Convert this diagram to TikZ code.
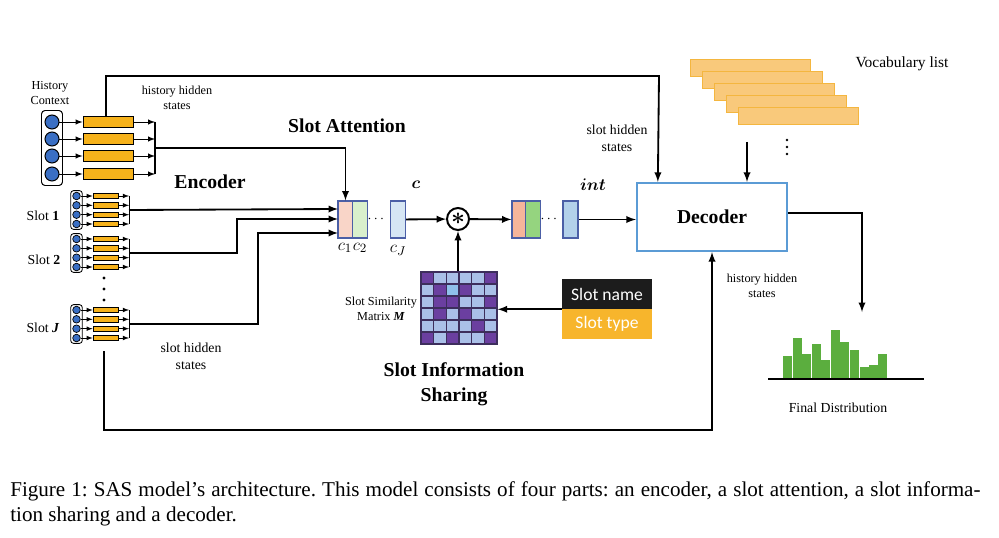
\documentclass[tikz,border=0pt]{standalone}
\usepackage{fontspec}
\usepackage{amsmath,bm}
\setmainfont{Liberation Serif}
\newfontfamily\calibri{Carlito}
\usetikzlibrary{fit,calc}

\definecolor{encblue}{HTML}{3A6FC4}
\definecolor{barorange}{HTML}{F6B21B}
\definecolor{cardfill}{HTML}{F9C97B}
\definecolor{carddraw}{HTML}{F4B63F}
\definecolor{histgreen}{HTML}{5BAE3E}
\definecolor{decblue}{HTML}{5B9BD5}
\definecolor{cborder}{HTML}{4B5FA6}
\definecolor{cpink}{HTML}{F9D5C8}
\definecolor{cgreen}{HTML}{D9F0CC}
\definecolor{cblue}{HTML}{D6E6F4}
\definecolor{isalmon}{HTML}{F6B59A}
\definecolor{igreen}{HTML}{95D47F}
\definecolor{iblue}{HTML}{B3D1EA}
\definecolor{matD}{HTML}{6B3FA0}
\definecolor{matL}{HTML}{AAC0E8}
\definecolor{matC}{HTML}{8FC0EA}
\definecolor{matgrid}{HTML}{3D2E5C}
\definecolor{namebg}{HTML}{1C1C1C}
\definecolor{typebg}{HTML}{F7B52C}

\tikzset{
    hcirc/.style={circle, draw=black, fill=encblue, line width=0.7pt, minimum size=0.35cm, inner sep=0},
    hbarbox/.style={draw=black, fill=barorange, line width=0.7pt, minimum width=1.25cm, minimum height=0.275cm, inner sep=0},
    scirc/.style={circle, draw=black, fill=encblue, line width=0.5pt, minimum size=0.19cm, inner sep=0},
    sbarbox/.style={draw=black, fill=barorange, line width=0.5pt, minimum width=0.625cm, minimum height=0.13cm, inner sep=0},
    colbox/.style={draw=black, rounded corners=2.5pt, line width=0.7pt},
    sarr/.style={->, line width=0.7pt},
    conn/.style={->, line width=1.3pt},
    vec/.style={draw=cborder, line width=0.8pt, minimum width=0.375cm, minimum height=0.925cm, inner sep=0},
    vcard/.style={draw=carddraw, fill=cardfill, line width=0.6pt, minimum width=3cm, minimum height=0.425cm, inner sep=0},
    lbl/.style={font=\fontsize{8.7}{10.5}\selectfont, align=center},
    biglbl/.style={font=\fontsize{9.8}{12}\selectfont, align=center},
    part/.style={font=\fontsize{14}{17.5}\selectfont\bfseries, align=center},
    mlbl/.style={font=\fontsize{12.5}{14}\selectfont},
    infobox/.style={minimum width=2.25cm, minimum height=0.75cm, inner sep=0, text=white, font=\calibri\fontsize{12.5}{14}\selectfont},
}

\begin{document}
\begin{tikzpicture}[x=0.025cm, y=-0.025cm, >=latex]
    \useasboundingbox (0,0) rectangle (999,538);

    % 历史上下文编码
    \node[lbl] (hctx) at (50,93) {History\\Context};
    \foreach \k/\y in {1/122,2/139,3/156,4/174} {
        \node[hcirc] (hc\k) at (52,\y) {};
        \node[hbarbox] (hb\k) at (108,\y) {};
        \coordinate (he\k) at (155,\y);
        \draw[sarr] (hc\k) -- (hb\k);
        \draw[sarr] (hb\k) -- (he\k);
    }
    \node[colbox, fit=(hc1)(hc4), inner xsep=0.075cm, inner ysep=0.1cm] (hcol) {};
    \draw[line width=0.9pt] (he1) -- (he4);
    \coordinate (hout) at (155,148);
    \coordinate (hup) at (106,116);
    \node[lbl] (hhs) at (177,98) {history hidden\\states};

    % 槽编码
    \foreach \s/\yc in {1/210,2/253,J/324} {
        \foreach \k/\dy in {1/-14,2/-4.7,3/4.7,4/14} {
            \node[scirc] (sc\s\k) at (76.5,\yc+\dy) {};
            \node[sbarbox] (sb\s\k) at (105.5,\yc+\dy) {};
            \coordinate (se\s\k) at (129,\yc+\dy);
            \draw[sarr, line width=0.5pt] (sc\s\k) -- (sb\s\k);
            \draw[sarr, line width=0.5pt] (sb\s\k) -- (se\s\k);
        }
        \node[colbox, rounded corners=2pt, line width=0.6pt, fit=(sc\s1)(sc\s4), inner xsep=0.04cm, inner ysep=0.03cm] (slot\s) {};
        \draw[line width=0.7pt] (se\s1) -- (se\s4);
        \coordinate (so\s) at (129,\yc);
    }
    \node[biglbl] (lab1) at (43,216) {Slot \textbf{1}};
    \node[biglbl] (lab2) at (44,260) {Slot \textbf{2}};
    \node[biglbl] (labJ) at (43,328) {Slot \textbf{\textit{J}}};
    \fill (104,278) circle (1.2pt);
    \fill (104,289) circle (1.2pt);
    \fill (104,300) circle (1.2pt);
    \node[biglbl] (shs1) at (191,356) {slot hidden\\states};
    \coordinate (sdown) at (104,351);

    % 标题
    \node[part] (enc) at (210,182) {Encoder};
    \node[part] (att) at (347,126) {Slot Attention};
    \node[part] (sis) at (454,384) {Slot Information\\Sharing};

    % 槽注意力
    \node[vec, fill=cpink] (c1) at (345.5,219.5) {};
    \node[vec, fill=cgreen] (c2) at (360,219.5) {};
    \node (cdots) at (377,219) {$\cdots$};
    \node[vec, fill=cblue] (cJ) at (398,219.5) {};
    \node[mlbl] (cl1) at (345,248) {$c_1$};
    \node[mlbl] (cl2) at (360,248) {$c_2$};
    \node[mlbl] (clJ) at (398,250) {$c_J$};
    \node[mlbl] (clab) at (416,185) {$\bm{c}$};
    \coordinate (c1in) at (338,209);
    \coordinate (c2in) at (338,219);
    \coordinate (cJin) at (338,233);

    \draw[conn] (so1) -- (c1in);
    \draw[conn] (so2) -- (237,253) |- (c2in);
    \draw[conn] (soJ) -- (258,324) |- (cJin);
    \draw[conn] (hout) -| (c1.north);

    % 相乘
    \node[circle, draw=black, line width=1.4pt, minimum size=0.55cm, inner sep=0] (mul) at (458,219) {\LARGE$\bm{\ast}$};
    \draw[conn] (cJ) -- (mul);

    % int
    \node[vec, fill=isalmon] (i1) at (519.5,219.5) {};
    \node[vec, fill=igreen] (i2) at (533,219.5) {};
    \node (idots) at (550,219) {$\cdots$};
    \node[vec, fill=iblue] (iJ) at (570.5,219.5) {};
    \node[mlbl] (ilab) at (593,185) {$\bm{int}$};
    \draw[conn] (mul) -- (i1);

    % 槽相似矩阵
    \foreach \row [count=\r] in {{D,L,L,L,L,D},{L,D,C,D,L,L},{L,D,D,L,L,D},{L,D,L,D,L,L},{L,L,L,L,D,L},{D,L,D,L,L,D}} {
        \foreach \t [count=\c] in \row {
            \draw[draw=matgrid, fill=mat\t, line width=0.8pt] (421+12.67*\c-12.67,272+12*\r-12) rectangle ++(12.67,12);
        }
    }
    \node[draw=matgrid, line width=1pt, minimum width=1.9cm, minimum height=1.8cm, inner sep=0] (mat) at (459,308) {};
    \node[lbl] (matlab) at (381,309) {Slot Similarity\\Matrix \textbf{\textit{M}}};
    \draw[conn] (mat.north -| mul) -- (mul);

    \node[infobox, fill=namebg] (sname) at (607,294) {Slot name};
    \node[infobox, fill=typebg] (stype) at (607,324) {Slot type};
    \draw[conn] (sname.south west) -- (mat.east |- sname.south west);

    % 解码器
    \node[draw=decblue, line width=1.6pt, minimum width=3.75cm, minimum height=1.7cm, font=\fontsize{14}{17}\selectfont\bfseries] (dec) at (712,217) {Decoder};
    \draw[conn] (iJ) -- (dec.west |- iJ);
    \draw[conn] (hup) |- (659,76) -- ($(dec.north west)+(22,0)$);
    \node[biglbl] (shs2) at (617,138) {slot hidden\\states};
    \coordinate (bot) at (712,430);
    \draw[conn] (sdown) |- (bot) -- (dec.south);
    \node[lbl] (hhs2) at (762,286) {history hidden\\states};

    % 词表
    \foreach \i in {0,...,4} {
        \node[vcard] (v\i) at (750+12*\i,67.5+12*\i) {};
    }
    \node[font=\fontsize{11}{13}\selectfont] (voc) at (902,64) {Vocabulary list};
    \coordinate (vout) at (747,142);
    \draw[conn] (vout) -- (dec.north -| vout);
    \fill (787,140) circle (0.9pt);
    \fill (787,147) circle (0.9pt);
    \fill (787,154) circle (0.9pt);

    % 最终分布
    \coordinate (histin) at (862,312);
    \draw[conn] ($(dec.east)+(0,-4)$) -| (histin);
    \foreach \x/\t in {783/356,793/338,802/354,812/344,821/360,831/330,840/342,850/350,860/367,869/365,878/354} {
        \fill[histgreen] (\x,379) rectangle (\x+8.5,\t);
    }
    \draw[line width=1.3pt] (768,379) -- (924,379);
    \node[biglbl] (fd) at (838,408) {Final Distribution};

    % 图注
    \node[anchor=base west, inner sep=0, font=\fontsize{15}{17}\selectfont\frenchspacing] (cap1) at (10,496) {\makebox[24.25cm][s]{Figure 1: SAS model's architecture. This model consists of four parts: an encoder, a slot attention, a slot informa-}};
    \node[anchor=base west, inner sep=0, font=\fontsize{15}{17}\selectfont\frenchspacing] (cap2) at (10,521) {tion sharing and a decoder.};
\end{tikzpicture}
\end{document}
